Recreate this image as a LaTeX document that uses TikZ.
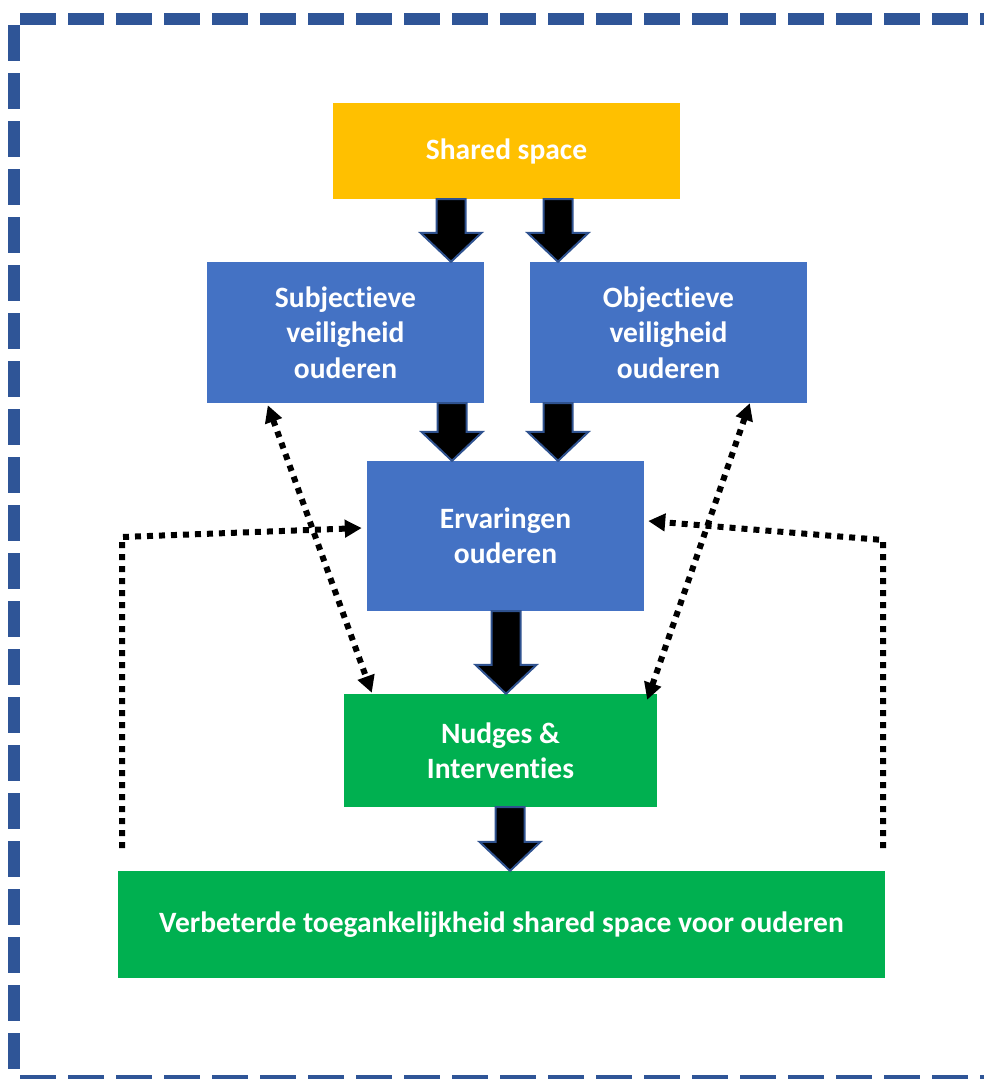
\documentclass[tikz,border=0pt]{standalone}
\usepackage{fontspec}
\setmainfont[Ligatures=NoCommon]{Carlito}
\usetikzlibrary{arrows.meta,calc}
\definecolor{boxblue}{HTML}{4472C4}
\definecolor{boxorange}{HTML}{FFC000}
\definecolor{boxgreen}{HTML}{00B050}
\definecolor{frameblue}{HTML}{2F5597}
\definecolor{arrowedge}{HTML}{2F528F}
\tikzset{
  box/.style={rectangle, draw=none, text=white, align=center,
    font=\fontsize{29.5}{35.5}\selectfont\bfseries, inner sep=0pt},
  blockarrow/.style={fill=black, draw=arrowedge, line width=2pt, line join=miter},
  dots/.style={line width=6pt, dash pattern=on 6pt off 6pt, black},
  dotarrow/.style={dots, -{Triangle[length=17pt,width=17pt]}},
  dotboth/.style={dots, {Triangle[length=17pt,width=17pt]}-{Triangle[length=17pt,width=17pt]}},
  frame/.style={line width=12pt, frameblue, dash pattern=on 36pt off 12pt},
}
% block arrow: x position, from node, to node
\newcommand\blockarr[3]{%
  \draw[blockarrow] let \p1=(#2.south), \p2=(#3.north) in
    (#1-14.5,\y1) -- (#1+14.5,\y1) -- (#1+14.5,\y2+29) -- (#1+30.5,\y2+29)
    -- (#1,\y2) -- (#1-30.5,\y2+29) -- (#1-14.5,\y2+29) -- cycle;}
\begin{document}
\begin{tikzpicture}[x=1pt,y=1pt]
\useasboundingbox (0,0) rectangle (984,-1079);
% frame
\draw[frame] (20,-19) -- (996,-19);
\draw[frame] (14,-25) -- (14,-1090);
\draw[frame] (20,-1081) -- (996,-1081);

\node[box, fill=boxorange, minimum width=347pt, minimum height=96pt] (ss) at (506.5,-151) {\raisebox{-2pt}{Shared space}};
\node[box, fill=boxblue, minimum width=277pt, minimum height=141pt] (subj) at (345.5,-332.5) {Subjectieve\\veiligheid\\ouderen};
\node[box, fill=boxblue, minimum width=277pt, minimum height=141pt] (obj) at (668.5,-332.5) {Objectieve\\veiligheid\\ouderen};
\node[box, fill=boxblue, minimum width=277pt, minimum height=150pt] (erv) at (505.5,-536) {Ervaringen\\ouderen};
\node[box, fill=boxgreen, minimum width=313pt, minimum height=113pt] (nud) at (500.5,-750.5) {Nudges \&\\Interventies};
\node[box, fill=boxgreen, minimum width=767pt, minimum height=107pt] (ver) at (501.5,-924.5) {\raisebox{-2pt}{Verbeterde toegankelijkheid shared space voor ouderen}};

% block arrows
\blockarr{451}{ss}{subj}
\blockarr{558}{ss}{obj}
\blockarr{452}{subj}{erv}
\blockarr{558}{obj}{erv}
\blockarr{506}{erv}{nud}
\blockarr{510}{nud}{ver}

% dotted feedback lines
\coordinate (lb) at (122,-848);
\coordinate (lc) at (122,-537);
\coordinate (rb) at (883,-848);
\coordinate (rc) at (883,-540);
\draw[dotarrow] (lb) -- (lc) -- ($(erv.west)+(-5,8)$);
\draw[dotarrow] (rb) -- (rc) -- ($(erv.east)+(4,15)$);

% diagonal double-headed
\draw[dotboth] ($(subj.south west)+(61,-2)$) -- ($(nud.north west)+(28,1)$);
\draw[dotboth] ($(obj.south west)+(220,0)$) -- ($(nud.north east)+(-10,-6)$);
\end{tikzpicture}
\end{document}
